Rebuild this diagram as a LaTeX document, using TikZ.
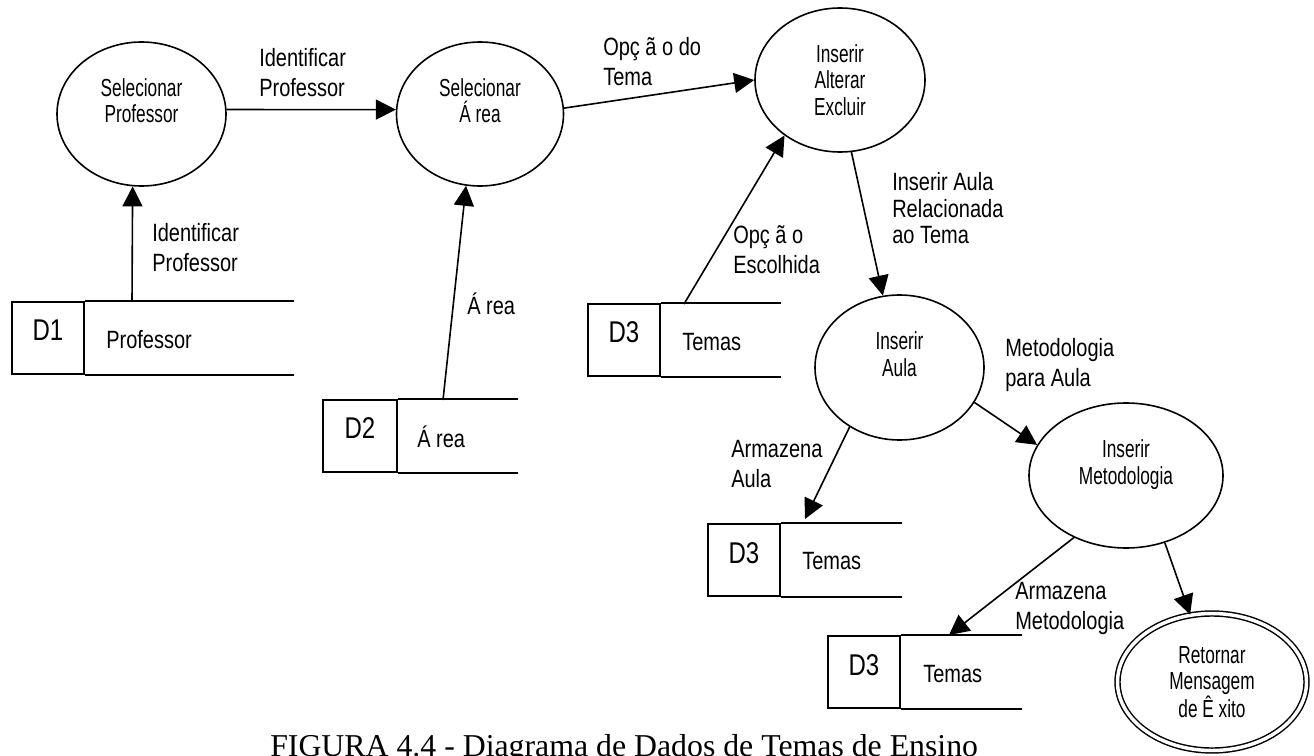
\documentclass[tikz,border=0pt]{standalone}
\usepackage{fontspec}
\usetikzlibrary{shapes.geometric,arrows.meta}
\newfontfamily\narrowsans{Liberation Sans}[FakeStretch=0.8]
\newfontfamily\tightsans{Liberation Sans}[FakeStretch=0.7]
\newfontfamily\capserif{Liberation Serif}

\tikzset{
  process/.style={ellipse, draw, line width=1.2pt, inner sep=0pt, align=center,
    font=\tightsans\fontsize{18.5pt}{20pt}\selectfont},
  endprocess/.style={process, double, double distance=2.6pt, line width=1.1pt},
  flowlabel/.style={anchor=north west, inner sep=0pt, align=left,
    font=\narrowsans\fontsize{18.75pt}{22.5pt}\selectfont},
  storebox/.style={draw, line width=1.5pt, inner sep=0pt, minimum height=54pt},
  storeid/.style={anchor=base, inner sep=0pt,
    font=\narrowsans\fontsize{22.5pt}{27pt}\selectfont},
  storename/.style={anchor=base west, inner sep=0pt,
    font=\narrowsans\fontsize{18.75pt}{22.5pt}\selectfont},
  storeline/.style={line width=1.5pt},
  flow/.style={line width=1.2pt, -{Triangle[length=15pt,width=15pt]}},
  capt/.style={anchor=base west, inner sep=0pt,
    font=\capserif\fontsize{23.85pt}{28pt}\selectfont}
}

\begin{document}
\begin{tikzpicture}[x=0.75pt, y=-0.75pt]
  \fill[white] (0,0) rectangle (1314,756);
  \useasboundingbox (0,0) rectangle (1314,756);

  % processes
  \node[process, minimum width=126.75pt, minimum height=108pt] (selprof) at (141.5,114)
    {Selecionar\\Professor\\\mbox{}};
  \node[process, minimum width=125.25pt, minimum height=108pt] (selarea) at (480,114)
    {Selecionar\\Á rea\\\mbox{}};
  \node[process, minimum width=127.5pt, minimum height=108pt] (iae) at (840,80)
    {Inserir\\Alterar\\Excluir};
  \node[process, minimum width=126.75pt, minimum height=108.75pt] (aula) at (899.5,367.5)
    {Inserir\\Aula\\\mbox{}};
  \node[process, minimum width=145.5pt, minimum height=108.75pt] (metod) at (1126,475.5)
    {Inserir\\Metodologia\\\mbox{}};
  \node[endprocess, minimum width=141.75pt, minimum height=102.75pt] (retornar) at (1212,682)
    {Retornar\\Mensagem\\de Ê xito};

  % data stores
  \node[storebox, minimum width=54pt] (d1box) at (48,338) {};
  \draw[storeline] (d1box.north east) -- ++(209,0);
  \draw[storeline] (d1box.south east) -- ++(209,0);
  \node[storeid] (d1id) at (48,340) {D1};
  \node[storename] (d1name) at (106,348) {Professor};

  \node[storebox, minimum width=55.5pt] (d2box) at (360,436) {};
  \draw[storeline] (d2box.north east) -- ++(120,0);
  \draw[storeline] (d2box.south east) -- ++(120,0);
  \node[storeid] (d2id) at (360,438) {D2};
  \node[storename] (d2name) at (417,447) {Á rea};

  \node[storebox, minimum width=54pt] (d3abox) at (624,340) {};
  \draw[storeline] (d3abox.north east) -- ++(120,0);
  \draw[storeline] (d3abox.south east) -- ++(120,0);
  \node[storeid] (d3aid) at (624,342) {D3};
  \node[storename] (d3aname) at (682,350) {Temas};

  \node[storebox, minimum width=54pt] (d3bbox) at (744,560) {};
  \draw[storeline] (d3bbox.north east) -- ++(121,0);
  \draw[storeline] (d3bbox.south east) -- ++(121,0);
  \node[storeid] (d3bid) at (744,563) {D3};
  \node[storename] (d3bname) at (802,569) {Temas};

  \node[storebox, minimum width=54pt] (d3cbox) at (864,672) {};
  \draw[storeline] (d3cbox.north east) -- ++(121,0);
  \draw[storeline] (d3cbox.south east) -- ++(121,0);
  \node[storeid] (d3cid) at (864,675) {D3};
  \node[storename] (d3cname) at (923,682) {Temas};

  % connector ends on the stores
  \coordinate (d1out) at (132,302);
  \coordinate (d2out) at (443,400);
  \coordinate (d3aout) at (684,304);
  \coordinate (d3bin) at (805,519);
  \coordinate (d3cin) at (949,635);

  % data flows
  \draw[flow] (selprof.3) -- (selarea.177);
  \draw[flow] (selarea.4) -- (iae.180);
  \draw[flow] (d1out) -- (selprof.-97.5);
  \draw[flow] (d2out) -- (selarea.-101);
  \draw[flow] (d3aout) -- (iae.225);
  \draw[flow] (iae.-81) -- (aula.103);
  \draw[flow] (aula.-25) -- (metod.161);
  \draw[flow] (aula.-130) -- (d3bin);
  \draw[flow] (metod.-130) -- (d3cin);
  \draw[flow] (metod.-60) -- (retornar.108);

  % flow labels
  \node[flowlabel] (l1) at (259,48) {Identificar\\Professor};
  \node[flowlabel] (l2) at (152,223) {Identificar\\Professor};
  \node[flowlabel] (l3) at (603,37) {Opç ã o do\\Tema};
  \node[flowlabel] (l4) at (467,293) {Á rea};
  \node[flowlabel] (l5) at (733,225) {Opç ã o\\Escolhida};
  \node[flowlabel, font=\narrowsans\fontsize{18.75pt}{20pt}\selectfont] (l6) at (892,172)
    {Inserir Aula\\Relacionada\\ao Tema};
  \node[flowlabel] (l7) at (1005,338) {Metodologia\\para Aula};
  \node[flowlabel] (l8) at (731,440) {Armazena\\Aula};
  \node[flowlabel] (l9) at (1015,582) {Armazena\\Metodologia};

  % caption
  \node[capt] (caption) at (270,756) {FIGURA 4.4 - Diagrama de Dados de Temas de Ensino};
\end{tikzpicture}
\end{document}
